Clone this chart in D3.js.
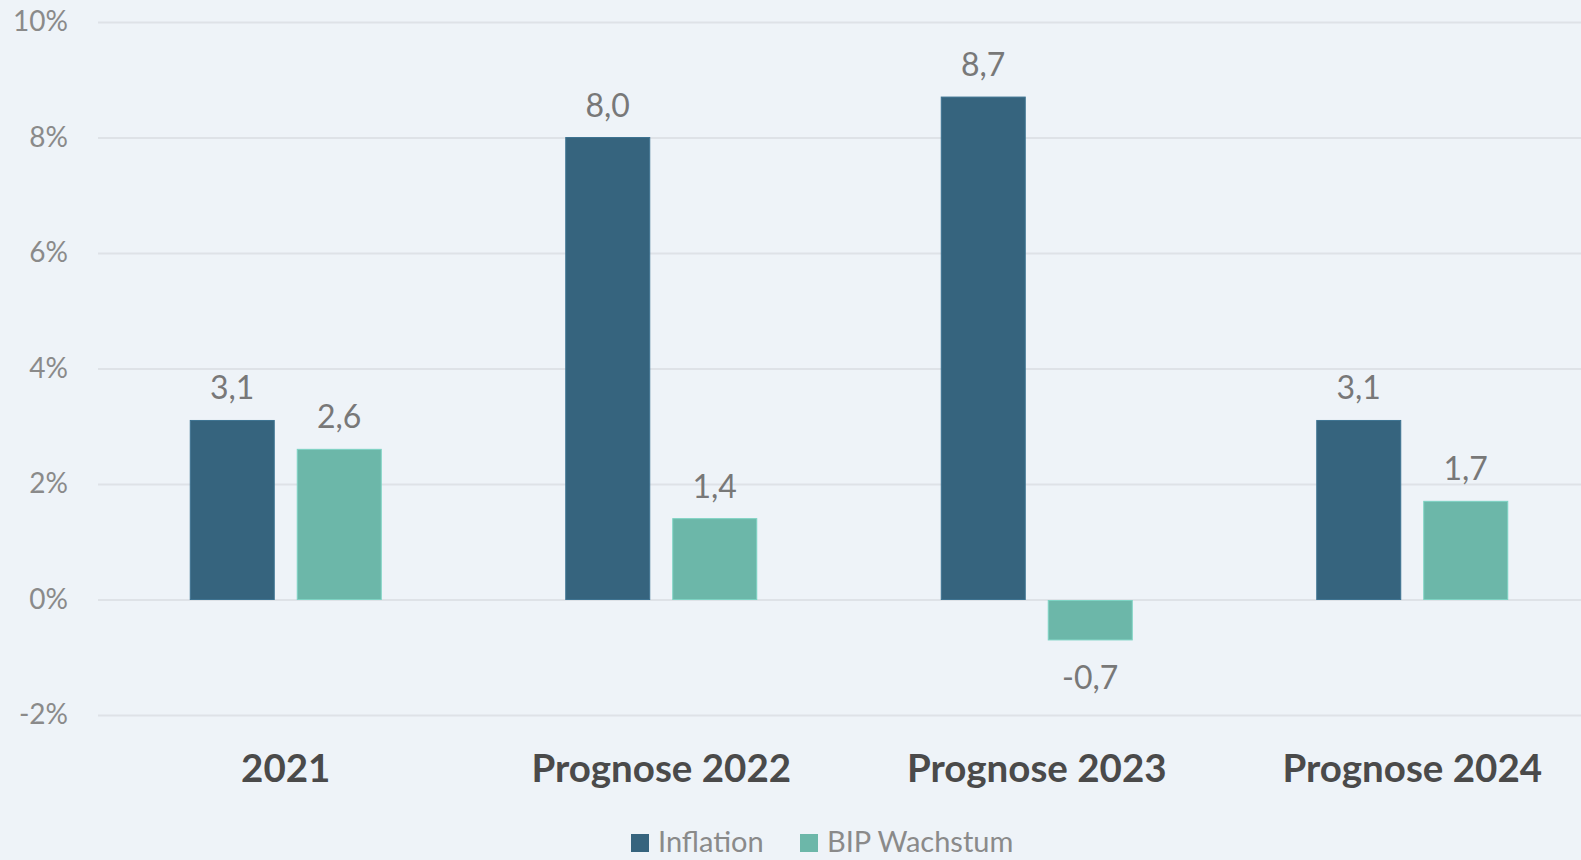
<!DOCTYPE html>
<html>
<head>
<meta charset="utf-8">
<script src="https://cdn.jsdelivr.net/npm/d3@7"></script>
<style>
  html, body { margin: 0; padding: 0; background: #EEF3F8; overflow: hidden; }
  svg { display: block; }
</style>
</head>
<body>
<svg id="chart" width="1581" height="860"></svg>
<script>
// ---- data ----
const categories = ["2021", "Prognose 2022", "Prognose 2023", "Prognose 2024"];
const seriesNames = ["Inflation", "BIP Wachstum"];
const inflation = [3.1, 8.0, 8.7, 3.1];
const bipWachstum = [2.6, 1.4, -0.7, 1.7];
const yTicks = [-2, 0, 2, 4, 6, 8, 10];
const colors = ["#36647E", "#6CB7A9"];

const seriesValues = [inflation, bipWachstum];
const rows = categories.map((c, i) => ({
  cat: c,
  vals: seriesNames.map((s, j) => ({ series: s, idx: j, value: seriesValues[j][i] }))
}));

const svg = d3.select("#chart");
const W = 1581, H = 860;
const left = 98, right = 1600;

const y = d3.scaleLinear().domain([-2, 10]).range([715, 22]);
const x0 = d3.scaleBand().domain(categories).range([left, right]).padding(0);
const groupW = 191;
const x1 = d3.scaleBand().domain(seriesNames).range([0, groupW]).paddingInner(0.215).paddingOuter(0);
const groupOffset = (x0.bandwidth() - groupW) / 2;
const color = d3.scaleOrdinal().domain(seriesNames).range(colors);

svg.append("rect").attr("width", W).attr("height", H).attr("fill", "#EEF3F8");

// grid
const grid = svg.append("g")
  .attr("transform", `translate(${left},0)`)
  .call(d3.axisLeft(y).tickValues(yTicks).tickSize(-(right - left)).tickFormat(""));
grid.select(".domain").remove();
grid.selectAll(".tick line").attr("stroke", "#DEE2E7").attr("stroke-width", 2);

// y axis labels
const yAxis = svg.append("g")
  .attr("transform", `translate(${left},0)`)
  .call(d3.axisLeft(y).tickValues(yTicks).tickSize(0).tickPadding(30).tickFormat(d => d + "%"));
yAxis.select(".domain").remove();
yAxis.selectAll(".tick text")
  .attr("font-family", "Lato, sans-serif")
  .attr("font-size", 28)
  .attr("fill", "#8A8A8A");

// bars
const groups = svg.append("g").selectAll("g.grp")
  .data(rows).join("g")
  .attr("class", "grp")
  .attr("transform", d => `translate(${x0(d.cat) + groupOffset},0)`);

groups.selectAll("rect")
  .data(d => d.vals).join("rect")
  .attr("x", d => x1(d.series))
  .attr("width", x1.bandwidth())
  .attr("y", d => d.value >= 0 ? y(d.value) : y(0) + 1)
  .attr("height", d => d.value >= 0 ? y(0) - y(d.value) : y(d.value) - y(0) - 1)
  .attr("fill", d => color(d.series))
  .attr("stroke", d => d3.color(color(d.series)).brighter(0.4))
  .attr("stroke-width", 1);

// value labels
const fmt = v => v.toFixed(1).replace(".", ",");
groups.selectAll("text.val")
  .data(d => d.vals).join("text")
  .attr("class", "val")
  .attr("x", d => x1(d.series) + x1.bandwidth() / 2)
  .attr("y", d => d.value >= 0 ? y(d.value) - 21 : y(d.value) + 49)
  .attr("text-anchor", "middle")
  .attr("font-family", "Lato, sans-serif")
  .attr("font-size", 32)
  .attr("fill", "#787878")
  .text(d => fmt(d.value));

// category labels
svg.append("g").selectAll("text.cat")
  .data(categories).join("text")
  .attr("class", "cat")
  .attr("x", d => x0(d) + x0.bandwidth() / 2)
  .attr("y", 782)
  .attr("text-anchor", "middle")
  .attr("font-family", "Lato, sans-serif")
  .attr("font-weight", "bold")
  .attr("font-size", 38.5)
  .attr("fill", "#4A4A4A")
  .text(d => d);

// legend
const legendItems = [
  { name: seriesNames[0], x: 631 },
  { name: seriesNames[1], x: 800 }
];
const lg = svg.append("g").selectAll("g.lg").data(legendItems).join("g")
  .attr("transform", d => `translate(${d.x},0)`);
lg.append("rect").attr("x", 0).attr("y", 834).attr("width", 18).attr("height", 18)
  .attr("fill", d => color(d.name));
lg.append("text").attr("x", 27).attr("y", 852)
  .attr("font-family", "Lato, sans-serif")
  .attr("font-size", 29)
  .attr("fill", "#8A8A8A")
  .text(d => d.name);
</script>
</body>
</html>
